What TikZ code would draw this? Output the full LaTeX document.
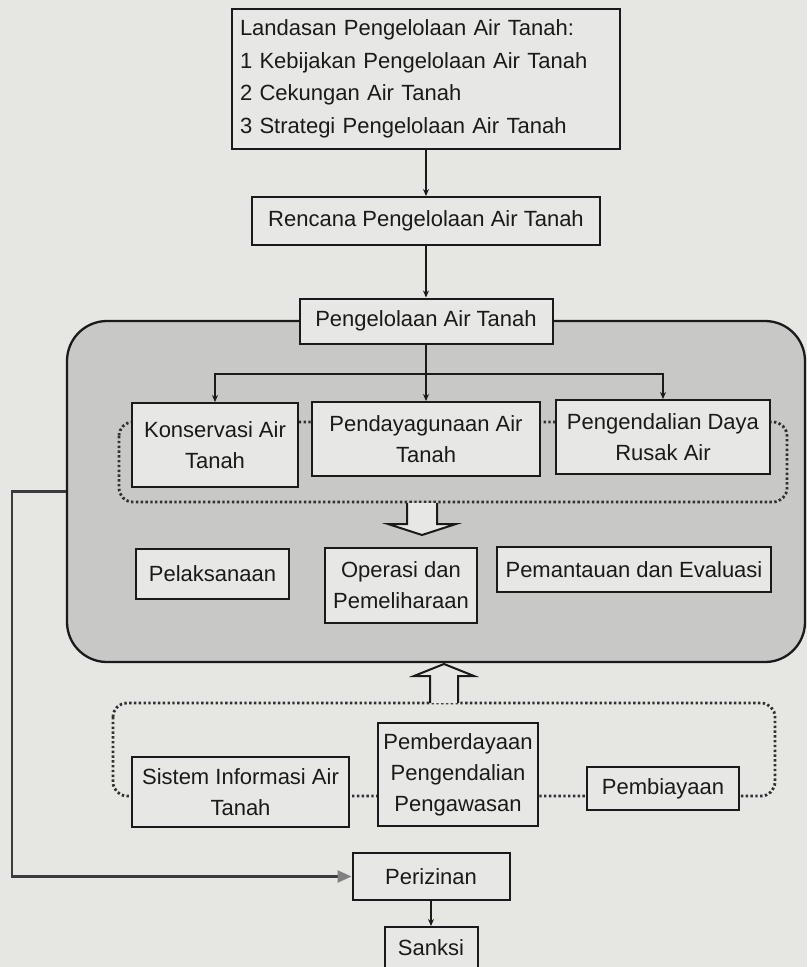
\documentclass[tikz,border=0pt]{standalone}
\usepackage{fontspec}
\setmainfont{Liberation Sans}
\usetikzlibrary{arrows.meta,calc}
\definecolor{bgc}{HTML}{E6E6E3}
\definecolor{contc}{HTML}{C8C8C6}
\definecolor{boxc}{HTML}{E7E7E5}
\definecolor{linec}{HTML}{1A1A1A}
\begin{document}
\begin{tikzpicture}[x=1pt,y=-1pt,
  font=\fontsize{22}{31}\selectfont,
  box/.style={draw=linec, fill=boxc, line width=2pt, inner sep=0pt, align=center, text=linec},
  arr/.style={draw=linec, line width=1.8pt, -{Stealth[length=7pt,width=6pt]}},
  dotline/.style={draw=linec!90, line width=2.8pt, dash pattern=on 2.4pt off 2.4pt},
  hollow/.style={draw=linec, fill=boxc, line width=2pt, line join=miter}]
\fill[bgc] (0,0) rectangle (807,967);
\useasboundingbox (0,0) rectangle (807,967);

% container
\node[draw=linec, line width=2.3pt, fill=contc, rounded corners=40pt,
      minimum width=738pt, minimum height=341pt, inner sep=0pt] (cont) at (436,491.5) {};

% dotted groups
\draw[dotline, rounded corners=14pt] (119,422) rectangle (787,502);
\draw[dotline, rounded corners=14pt] (113,703) rectangle (775,796);

% top chain
\node[box, minimum width=388pt, minimum height=140pt, text width=372pt, align=left] (land) at (426,79)
  {Landasan Pengelolaan Air Tanah:\\[1.5pt]1 Kebijakan Pengelolaan Air Tanah\\[1.5pt]2 Cekungan Air Tanah\\[1.5pt]3 Strategi Pengelolaan Air Tanah};
\node[box, minimum width=348pt, minimum height=48pt] (ren) at (426,221) {Rencana Pengelolaan Air Tanah};
\node[box, minimum width=253pt, minimum height=45pt] (pgl) at (426,321) {Pengelolaan Air Tanah};

% three aspects
\node[box, minimum width=166pt, minimum height=84pt] (kons) at (215,445) {Konservasi Air\\Tanah};
\node[box, minimum width=228pt, minimum height=74pt] (pend) at (426,439) {Pendayagunaan Air\\Tanah};
\node[box, minimum width=214pt, minimum height=74pt] (peng) at (663,437) {Pengendalian Daya\\Rusak Air};

% activities
\node[box, minimum width=153pt, minimum height=50pt] (pel) at (212.5,574) {Pelaksanaan};
\node[box, minimum width=152pt, minimum height=75pt] (ops) at (401,585.5) {Operasi dan\\Pemeliharaan};
\node[box, minimum width=274pt, minimum height=45pt] (pem) at (634,569.5) {Pemantauan dan Evaluasi};

% supports
\node[box, minimum width=217pt, minimum height=70pt] (sis) at (240.5,792) {Sistem Informasi Air\\Tanah};
\node[box, minimum width=160pt, minimum height=103pt] (pbd) at (458,774.5) {Pemberdayaan\\Pengendalian\\Pengawasan};
\node[box, minimum width=152pt, minimum height=43pt] (pby) at (663,788.5) {Pembiayaan};

% licensing
\node[box, minimum width=157pt, minimum height=47pt] (per) at (431,876.5) {Perizinan};
\node[box, minimum width=93pt, minimum height=41pt] (san) at (431,947.5) {Sanksi};

% connectors
\draw[arr] (land) -- (ren);
\draw[arr] (ren) -- (pgl);
\coordinate (br) at ($(pgl.south)+(0,29.5)$);
\draw[arr] (pgl.south) -- (pend.north);
\draw[arr] (br) -| (kons.north);
\draw[arr] (br) -| (peng.north);
\draw[arr] (per) -- (san);
\draw[draw=linec!85, line width=2.6pt, -{Triangle[length=14pt,width=12pt,color=black!50]}]
  (cont.west) -- ++(-54,0) |- (per.west);

% hollow block arrows
\draw[hollow] (407,503) -- (407,524) -- (388,524) -- (422,535) -- (456,524) -- (437,524) -- (437,503);
\draw[hollow] (430,703) -- (430,676) -- (414,676) -- (444,664) -- (474,676) -- (458,676) -- (458,703);
\end{tikzpicture}
\end{document}
